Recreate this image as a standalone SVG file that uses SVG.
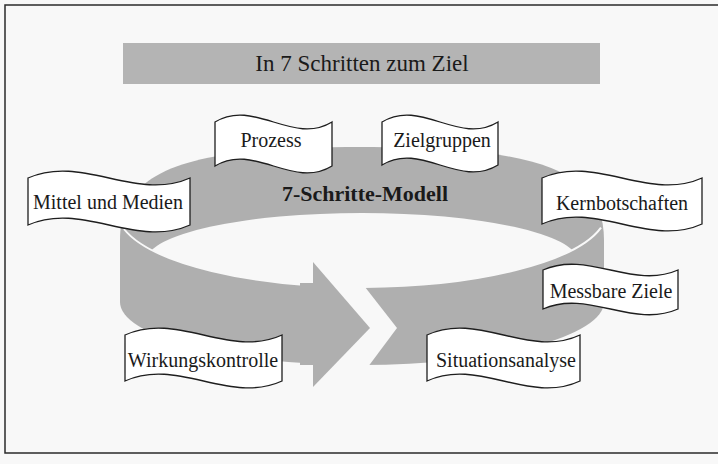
<svg xmlns="http://www.w3.org/2000/svg" width="718" height="464" viewBox="0 0 718 464">
  <defs>
    <style>
      .lbl { fill: #ffffff; stroke: #1e1e1e; stroke-width: 1.3; }
      .t { font-family: "Liberation Serif", "Times New Roman", serif; font-size: 20px; fill: #1a1a1a; text-anchor: middle; }
      .ring { fill: #afafaf; }
    </style>
    <clipPath id="clipB">
      <ellipse cx="362" cy="211" rx="245" ry="76"/>
    </clipPath>
    <clipPath id="clipOuter">
      <path d="M120,302 L120,240 C120,168 190,147 362,147 C534,147 604,168 604,240 L604,302 A242,63 0 0 1 120,302 Z"/>
    </clipPath>
  </defs>

  <rect x="0" y="0" width="718" height="464" fill="#f8f8f8"/>
  <rect x="5" y="5" width="740" height="448" fill="none" stroke="#2a2a2a" stroke-width="1.5"/>

  <g id="title">
    <rect x="123" y="43" width="477" height="41" fill="#b4b4b4"/>
    <text x="362" y="71" class="t" style="font-size:23px">In 7 Schritten zum Ziel</text>
  </g>

  <g id="cycle">
    <path class="ring" d="M120,302 L120,240 C120,168 190,147 362,147 C534,147 604,168 604,240 L604,302 A242,63 0 0 1 120,302 Z"/>
    <ellipse cx="362" cy="260" rx="215" ry="47" fill="#f8f8f8" clip-path="url(#clipB)"/>
    <path d="M124,229 A245,76 0 0 0 601,227.6" fill="none" stroke="#f8f8f8" stroke-width="2" clip-path="url(#clipOuter)"/>
    <polygon points="313,255 340,255 397,328 347,395 313,395" fill="#f8f8f8"/>
    <polygon class="ring" points="313,262 370,328 313,387"/>
    <rect x="300" y="283" width="14" height="82" class="ring"/>
    <text x="365" y="201" style="font-family:'Liberation Serif','Times New Roman',serif;font-size:22px;font-weight:bold;fill:#1a1a1a;text-anchor:middle">7-Schritte-Modell</text>
  </g>

  <g id="connectors"></g>

  <g id="prozess">
    <path class="lbl" d="M215,122 C254,98 293,146 332,122 L332,166 C293,190 254,142 215,166 Z"/>
    <text x="271" y="147" class="t">Prozess</text>
  </g>
  <g id="zielgruppen">
    <path class="lbl" d="M382,122 C421,98 459,146 498,122 L498,165 C459,189 421,141 382,165 Z"/>
    <text x="442" y="147" class="t">Zielgruppen</text>
  </g>
  <g id="mittel">
    <path class="lbl" d="M28,178 C82,154 136,202 190,178 L190,225 C136,249 82,201 28,225 Z"/>
    <text x="108" y="209" class="t">Mittel und Medien</text>
  </g>
  <g id="kernbotschaften">
    <path class="lbl" d="M542,178 C595,154 649,202 702,178 L702,224 C649,248 595,200 542,224 Z"/>
    <text x="622" y="210" class="t">Kernbotschaften</text>
  </g>
  <g id="messbare">
    <path class="lbl" d="M543,270 C588,250 633,290 678,270 L678,309 C633,329 588,289 543,309 Z"/>
    <text x="611" y="298" class="t">Messbare Ziele</text>
  </g>
  <g id="wirkungskontrolle">
    <path class="lbl" d="M125,335 C177,311 230,359 282,335 L282,381 C230,405 177,357 125,381 Z"/>
    <text x="203" y="367" class="t">Wirkungskontrolle</text>
  </g>
  <g id="situationsanalyse">
    <path class="lbl" d="M427,335 C478,311 529,359 580,335 L580,381 C529,405 478,357 427,381 Z"/>
    <text x="506" y="367" class="t">Situationsanalyse</text>
  </g>
</svg>
